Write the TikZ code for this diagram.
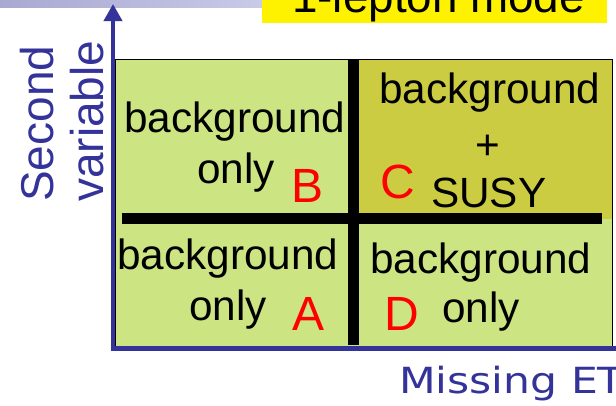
\documentclass[tikz,border=0pt]{standalone}
\usepackage{fontspec}
\setmainfont{Liberation Sans}
\newfontfamily\dejavuwide[FakeStretch=1.18]{DejaVu Sans}
\usetikzlibrary{arrows.meta}
\definecolor{axisblue}{RGB}{51,51,153}
\definecolor{cellgreen}{RGB}{205,228,130}
\definecolor{cellolive}{RGB}{204,204,66}
\definecolor{barleft}{RGB}{168,168,210}
\definecolor{barright}{RGB}{201,201,232}
\tikzset{
  txt/.style={inner sep=0pt, anchor=base west, font=\fontsize{42.3}{50}\selectfont},
  lbl/.style={inner sep=0pt, anchor=base west, text=red, font=\fontsize{48}{50}\selectfont},
  axislbl/.style={inner sep=0pt, anchor=base west, rotate=90, text=axisblue, font=\fontsize{46}{50}\selectfont},
  divider/.style={line width=11pt, black},
  axisline/.style={axisblue},
}
\begin{document}
\begin{tikzpicture}[x=1pt,y=-1pt]
\useasboundingbox (0,0) rectangle (616,405);
\clip (0,0) rectangle (616,405);
% top decoration
\shade[left color=barleft, right color=barright] (0,0) rectangle (262,7);
\fill[yellow] (262,-5) rectangle (607,23);
\node[inner sep=0pt, anchor=base west, font=\fontsize{45.8}{50}\selectfont] (title) at (292,12) {1-lepton mode};
% cells
\fill[cellgreen] (115,59) rectangle (612,346);
\fill[cellolive] (359,59) rectangle (612,219);
\draw[black, line width=1pt] (115,59) rectangle (612,346);
% dividers
\coordinate (hl) at (122,218.5);
\coordinate (hr) at (602,218.5);
\coordinate (vt) at (353.5,59);
\coordinate (vb) at (353.5,345);
\draw[divider] (hl) -- (hr);
\draw[divider] (vt) -- (vb);
% axes
\coordinate (yo) at (113,351);
\coordinate (ytip) at (113,4);
\coordinate (xo) at (111,348);
\coordinate (xend) at (620,348);
\draw[axisline, line width=5pt] (xo) -- (xend);
\draw[axisline, line width=4pt, -{Triangle[width=18pt,length=17pt]}] (yo) -- (ytip);
% axis labels
\node[axislbl] (second) at (53,202) {Second};
\node[axislbl] (variable) at (103,202) {variable};
\node[inner sep=0pt, anchor=base west, text=axisblue, font=\dejavuwide\fontsize{36}{40}\selectfont] (missing) at (399,393) {Missing ET};
% cell B
\node[txt] (bB1) at (124,132) {background};
\node[txt] (bB2) at (197,183) {only};
\node[lbl] (B) at (291.5,202) {B};
% cell C
\node[txt] (bC1) at (379,103) {background};
\node[inner sep=0pt, font=\fontsize{42.3}{50}\selectfont] (plus) at (488,147) {+};
\node[txt] (bC3) at (431,207) {SUSY};
\node[lbl] (C) at (380.5,198) {C};
% cell A
\node[txt] (bA1) at (117,269) {background};
\node[txt] (bA2) at (189,320) {only};
\node[lbl] (A) at (292,330) {A};
% cell D
\node[txt] (bD1) at (370,273) {background};
\node[txt] (bD2) at (442,322) {only};
\node[lbl] (D) at (384.5,330) {D};
\end{tikzpicture}
\end{document}
